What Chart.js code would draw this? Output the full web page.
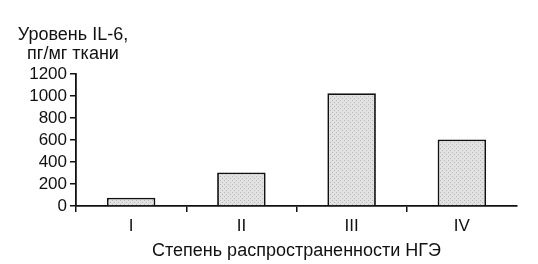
<!DOCTYPE html>
<html>
<head>
<meta charset="utf-8">
<script src="https://cdn.jsdelivr.net/npm/chart.js@4"></script>
<style>
  html, body { margin: 0; padding: 0; background: #fff; }
  #wrap { width: 538px; height: 264px; }
</style>
</head>
<body>
<div id="wrap"><canvas id="barChart"></canvas></div>
<script>
const categories = ["I", "II", "III", "IV"];
const il6Values = [75, 305, 1025, 605];
const yTicks = [0, 200, 400, 600, 800, 1000, 1200];

const FONT = "'Liberation Sans', Arial, sans-serif";

// dotted gray fill like the print
function makePattern() {
  const c = document.createElement("canvas");
  c.width = 4; c.height = 4;
  const g = c.getContext("2d");
  g.fillStyle = "#e2e2e2";
  g.fillRect(0, 0, 4, 4);
  g.fillStyle = "#b8b8b8";
  g.fillRect(0, 0, 1, 1);
  g.fillRect(2, 2, 1, 1);
  return g.createPattern(c, "repeat");
}

// y-axis caption above the axis
const yCaption = {
  id: "yCaption",
  afterDraw(chart) {
    const ctx = chart.ctx;
    const x = 73;
    ctx.save();
    ctx.fillStyle = "#111";
    ctx.font = "18px " + FONT;
    ctx.textAlign = "center";
    ctx.textBaseline = "alphabetic";
    ctx.fillText("Уровень IL-6,", x, 40);
    ctx.fillText("пг/мг ткани", x, 59);
    ctx.restore();
  }
};

const barChart = new Chart(document.getElementById("barChart"), {
  type: "bar",
  data: {
    labels: categories,
    datasets: [{
      data: il6Values,
      backgroundColor: makePattern(),
      borderColor: "#111",
      borderWidth: 1.8,
      borderSkipped: "bottom",
      categoryPercentage: 1,
      barPercentage: 0.44
    }]
  },
  options: {
    responsive: true,
    maintainAspectRatio: false,
    animation: false,
    layout: { padding: { top: 74, right: 21, left: 0, bottom: 2 } },
    plugins: { legend: { display: false }, tooltip: { enabled: false } },
    scales: {
      x: {
        grid: {
          offset: true,
          drawOnChartArea: false,
          tickLength: 6,
          lineWidth: 1.5,
          // no tick mark at the right end of the axis
          color: (c) => c.type === "tick" ? "#111" : "rgba(0,0,0,0)"
        },
        border: { color: "#111", width: 1.8 },
        ticks: { color: "#111", font: { family: FONT, size: 17 }, padding: 4 },
        title: {
          display: true,
          text: "Степень распространенности НГЭ",
          color: "#111",
          font: { family: FONT, size: 18 },
          padding: { top: 4, bottom: 0 }
        },
        afterFit(scale) { scale.height = 56; }
      },
      y: {
        min: 0,
        max: 1200,
        afterBuildTicks(scale) { scale.ticks = yTicks.map(v => ({ value: v })); },
        grid: { drawOnChartArea: false, tickLength: 6, color: "#111", lineWidth: 1.5 },
        border: { color: "#111", width: 1.8 },
        ticks: {
          color: "#111",
          font: { family: FONT, size: 17, lineHeight: 1 },
          padding: 3,
          autoSkip: false,
          callback: (v) => String(v)
        },
        afterFit(scale) { scale.width = 76; }
      }
    }
  },
  plugins: [yCaption]
});
</script>
</body>
</html>
